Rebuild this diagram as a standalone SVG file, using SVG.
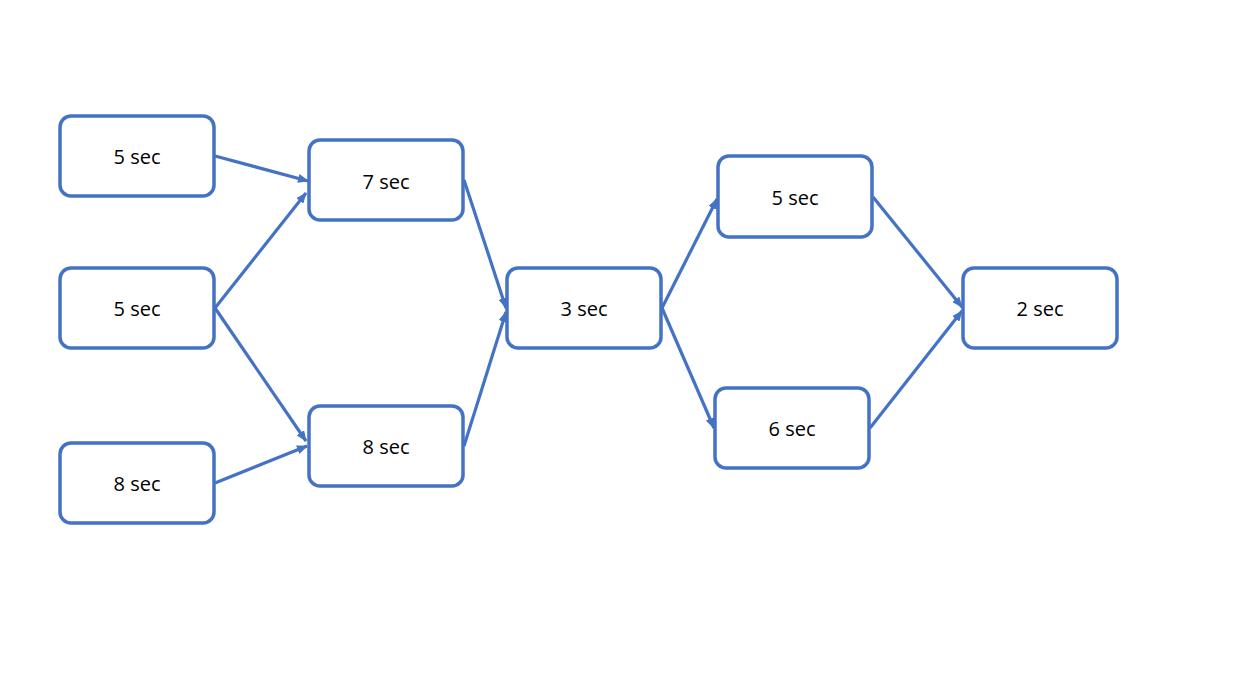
<svg xmlns="http://www.w3.org/2000/svg" width="1252" height="684" viewBox="0 0 1252 684">
<style>
.node rect{fill:#fff;stroke:#4472C4;stroke-width:3.5}
.node text{font-family:"Open Sans","Noto Sans","Liberation Sans",sans-serif;font-size:20px;fill:#000;text-anchor:middle;dominant-baseline:central}
.edges line{stroke:#4472C4;stroke-width:3.2;marker-end:url(#ah)}
</style>
<defs>
<marker id="ah" viewBox="0 0 11 9" refX="10" refY="4.5" markerWidth="11" markerHeight="9" markerUnits="userSpaceOnUse" orient="auto">
<path d="M0,0 L11,4.5 L0,9 Z" fill="#4472C4"/>
</marker>
</defs>
<rect width="1252" height="684" fill="#fff"/>
<g class="edges">
<line x1="215" y1="156" x2="308" y2="181"/>
<line x1="215" y1="308" x2="306" y2="193"/>
<line x1="215" y1="308" x2="306" y2="441"/>
<line x1="215" y1="483" x2="307" y2="446"/>
<line x1="464" y1="180" x2="506" y2="308"/>
<line x1="464" y1="446" x2="506" y2="312"/>
<line x1="662" y1="308" x2="717" y2="199"/>
<line x1="662" y1="308" x2="714" y2="428"/>
<line x1="873" y1="197" x2="962" y2="307"/>
<line x1="870" y1="428" x2="962" y2="311"/>
</g>
<g id="n1" class="node"><rect x="60" y="116" width="154" height="80" rx="11"/><text x="137" y="156">5 sec</text></g>
<g id="n2" class="node"><rect x="60" y="268" width="154" height="80" rx="11"/><text x="137" y="308">5 sec</text></g>
<g id="n3" class="node"><rect x="60" y="443" width="154" height="80" rx="11"/><text x="137" y="483">8 sec</text></g>
<g id="n4" class="node"><rect x="309" y="140" width="154" height="80" rx="11"/><text x="386" y="181">7 sec</text></g>
<g id="n5" class="node"><rect x="309" y="406" width="154" height="80" rx="11"/><text x="386" y="446">8 sec</text></g>
<g id="n6" class="node"><rect x="507" y="268" width="154" height="80" rx="11"/><text x="584" y="308">3 sec</text></g>
<g id="n7" class="node"><rect x="718" y="156" width="154" height="81" rx="11"/><text x="795" y="197">5 sec</text></g>
<g id="n8" class="node"><rect x="715" y="388" width="154" height="80" rx="11"/><text x="792" y="428">6 sec</text></g>
<g id="n9" class="node"><rect x="963" y="268" width="154" height="80" rx="11"/><text x="1040" y="308">2 sec</text></g>
</svg>
